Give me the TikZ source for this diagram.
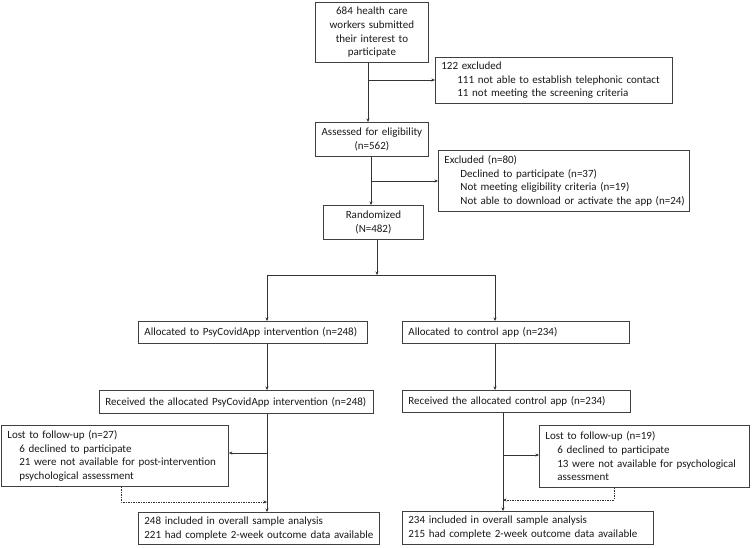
\documentclass[tikz,border=0pt]{standalone}
\usepackage{fontspec}
\setmainfont{Carlito}
\usetikzlibrary{arrows.meta}
\begin{document}
\begin{tikzpicture}[x=1pt,y=-1pt,
  every node/.style={font=\fontsize{11}{13.7}\selectfont, text=black!90},
  cbox/.style={draw=black!75, line width=0.8pt, anchor=north west, inner xsep=1pt, inner ysep=0pt, align=center},
  lbox/.style={draw=black!75, line width=0.8pt, anchor=north west, inner xsep=6pt, inner ysep=0pt, align=left},
  arr/.style={draw=black!80, line width=0.7pt, -{Stealth[length=3.5pt,width=3pt]}},
  ln/.style={draw=black!80, line width=0.7pt},
  dsh/.style={draw=black!80, line width=0.6pt, dash pattern=on 1.5pt off 1pt, -{Stealth[length=3.5pt,width=3pt]}}
]
\useasboundingbox (0,0) rectangle (754,548);
\fill[white] (0,0) rectangle (754,548);

% boxes
\node[cbox, minimum width=113, minimum height=60, text width=111] (top) at (315,2)
  {684 health care\\ workers submitted\\ their interest to\\ participate};
\node[lbox, minimum width=237, minimum height=46, text width=225] (ex1) at (435,57)
  {122 excluded\\ \hspace*{16pt}\mbox{111 not able to establish telephonic contact}\\ \hspace*{16pt}\mbox{11 not meeting the screening criteria}};
\node[cbox, minimum width=113, minimum height=34, text width=111] (assess) at (315,122)
  {Assessed for eligibility\\ (n=562)};
\node[lbox, minimum width=251, minimum height=61, text width=239] (ex2) at (438,150)
  {Excluded (n=80)\\ \hspace*{16pt}\mbox{Declined to participate (n=37)}\\ \hspace*{16pt}\mbox{Not meeting eligibility criteria (n=19)}\\ \hspace*{16pt}\mbox{Not able to download or activate the app (n=24)}};
\node[cbox, minimum width=100, minimum height=34, text width=98] (rand) at (323,205)
  {Randomized\\ (N=482)};

\node[lbox, minimum width=229, minimum height=22, text width=217] (allocL) at (138,321)
  {\mbox{Allocated to PsyCovidApp intervention (n=248)}};
\node[lbox, minimum width=227, minimum height=22, text width=215] (allocR) at (402,321)
  {\mbox{Allocated to control app (n=234)}};
\node[lbox, minimum width=274, minimum height=23, text width=262] (recL) at (99,390)
  {\mbox{Received the allocated PsyCovidApp intervention (n=248)}};
\node[lbox, minimum width=228, minimum height=22, text width=216] (recR) at (402,390)
  {\mbox{Received the allocated control app (n=234)}};

\node[lbox, minimum width=227, minimum height=61, text width=215] (lostL) at (1,425)
  {Lost to follow-up (n=27)\\ \hspace*{12pt}\mbox{6 declined to participate}\\ \hspace*{12pt}\mbox{21 were not available for post-intervention}\\ \hspace*{12pt}\mbox{psychological assessment}};
\node[lbox, minimum width=210, minimum height=62, text width=198] (lostR) at (539,425)
  {Lost to follow-up (n=19)\\ \hspace*{12pt}\mbox{6 declined to participate}\\ \hspace*{12pt}\mbox{13 were not available for psychological}\\ \hspace*{12pt}\mbox{assessment}};

\node[lbox, minimum width=241, minimum height=32, text width=229] (botL) at (138,512)
  {\mbox{248 included in overall sample analysis}\\ \mbox{221 had complete 2-week outcome data available}};
\node[lbox, minimum width=251, minimum height=33, text width=239] (botR) at (402,511)
  {\mbox{234 included in overall sample analysis}\\ \mbox{215 had complete 2-week outcome data available}};

% junction coordinates
\coordinate (j1) at (368,80);
\coordinate (j2) at (371,181);
\coordinate (j3) at (377,275);
\coordinate (jl) at (267,275);
\coordinate (jr) at (495,275);
\coordinate (j4) at (267,453);
\coordinate (j5) at (503,455);
\coordinate (d1) at (121,502);
\coordinate (d2) at (614,500);

% connectors
\draw[arr] (top.south -| j1) -- (assess.north -| j1);
\draw[arr] (j1) -- (ex1.west |- j1);
\draw[arr] (assess.south -| j2) -- (rand.north -| j2);
\draw[arr] (j2) -- (ex2.west |- j2);
\draw[arr] (rand.south -| j3) -- (j3);
\draw[ln] (jl) -- (jr);
\draw[arr] (jl) -- (allocL.north -| jl);
\draw[arr] (jr) -- (allocR.north -| jr);
\draw[arr] (allocL.south -| jl) -- (recL.north -| jl);
\draw[arr] (allocR.south -| jr) -- (recR.north -| jr);
\draw[arr] (recL.south -| j4) -- (botL.north -| j4);
\draw[arr] (j4) -- (lostL.east |- j4);
\draw[dsh] (lostL.south -| d1) -- (d1) -- (d1 -| j4);
\draw[arr] (recR.south -| j5) -- (botR.north -| j5);
\draw[arr] (j5) -- (lostR.west |- j5);
\draw[dsh] (lostR.south -| d2) -- (d2) -- (d2 -| j5);
\end{tikzpicture}
\end{document}
